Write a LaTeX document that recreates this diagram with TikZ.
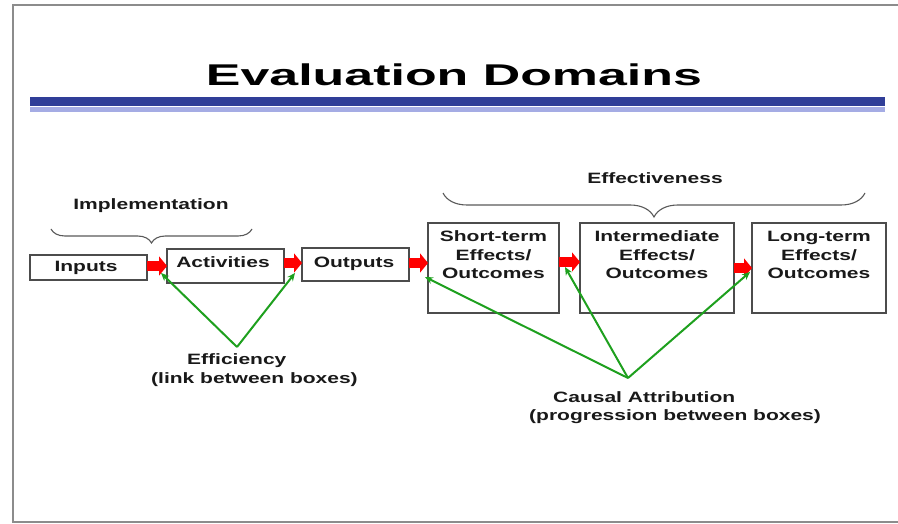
\documentclass[tikz,border=0pt]{standalone}
\usepackage{fontspec}
\setmainfont{Liberation Sans}[FakeStretch=1.4]
\newfontfamily\titlefont{Liberation Sans}[FakeStretch=1.73]
\usetikzlibrary{arrows.meta,decorations.pathreplacing}
\definecolor{barblue}{RGB}{48,62,152}
\definecolor{barlight}{RGB}{165,172,228}
\definecolor{framegray}{RGB}{140,140,140}
\definecolor{arrgreen}{RGB}{30,160,30}
\begin{document}
\begin{tikzpicture}[x=1pt,y=-1pt,
  box/.style={draw=black!70, line width=1.3pt, inner sep=0pt, outer sep=0pt},
  txt/.style={font=\fontsize{15}{18.5}\selectfont\bfseries, text=black!90, inner sep=0pt, align=center},
  redarr/.style={draw=red, line width=10pt, -{Triangle[length=8pt 0 0, width=19pt 0 0]}},
  grn/.style={draw=arrgreen, line width=2pt, -{Stealth[length=8pt 0 0, width=7pt 0 0]}},
  brc/.style={draw=black!65, line width=1.1pt, decorate, decoration={brace, mirror, amplitude=#1}}
]
\useasboundingbox (0,0) rectangle (898,524);
% frame
\draw[framegray, line width=2pt] (910,5) -- (13,5) -- (13,522) -- (910,522);
% title
\node[font=\titlefont\fontsize{30}{36}\selectfont\bfseries, text=black, anchor=base, inner sep=0pt] (title) at (454,86) {Evaluation Domains};
\fill[barblue] (30,97) rectangle (885,106);
\fill[barlight] (30,107) rectangle (885,112);
% boxes
\node[box, minimum width=117pt, minimum height=25pt] (in) at (88.5,267.5) {};
\node[box, minimum width=117pt, minimum height=34pt] (act) at (225.5,266) {};
\node[box, minimum width=107pt, minimum height=33pt] (out) at (355.5,264.5) {};
\node[box, minimum width=131pt, minimum height=90pt] (st) at (493.5,268) {};
\node[box, minimum width=154pt, minimum height=90pt] (im) at (657,268) {};
\node[box, minimum width=134pt, minimum height=90pt] (lt) at (819,268) {};
% box texts (base anchor = last line's baseline)
\node[txt, anchor=base] (in-t) at (86,272) {Inputs};
\node[txt, anchor=base] (act-t) at (223,267) {Activities};
\node[txt, anchor=base] (out-t) at (354,267) {Outputs};
\node[txt, anchor=base] (st-t) at (493.5,279) {Short-term\\Effects/\\Outcomes};
\node[txt, anchor=base] (im-t) at (657,279) {Intermediate\\Effects/\\Outcomes};
\node[txt, anchor=base] (lt-t) at (819,279) {Long-term\\Effects/\\Outcomes};
% red arrows
\draw[redarr] (in.east |- 0,266) -- (act.west |- 0,266);
\draw[redarr] (act.east |- 0,263) -- (out.west |- 0,263);
\draw[redarr] (out.east |- 0,263) -- (st.west |- 0,263);
\draw[redarr] (st.east |- 0,262) -- (im.west |- 0,262);
\draw[redarr] (im.east |- 0,268) -- (lt.west |- 0,268);
% braces
\draw[brc=14pt] (51,229) -- (252,229);
\draw[brc=24pt] (443,193) -- (865,193);
\node[txt, anchor=base] (impl) at (151,210) {Implementation};
\node[txt, anchor=base] (effv) at (655,184) {Effectiveness};
% labels
\node[txt, anchor=base west, align=left] (eff) at (151,383) {\hspace*{36pt}Efficiency\\(link between boxes)};
\node[txt, anchor=base west, align=left] (caus) at (529,420.5) {\hspace*{24pt}Causal Attribution\\(progression between boxes)};
% green arrows
\coordinate (effapex) at (237,347);
\coordinate (causapex) at (628,378);
\coordinate (e1) at (161,273);
\coordinate (e2) at (295,273);
\coordinate (c1) at (425,277);
\coordinate (c2) at (565,267);
\coordinate (c3) at (750,272);
\draw[grn] (effapex) -- (e1);
\draw[grn] (effapex) -- (e2);
\draw[grn] (causapex) -- (c1);
\draw[grn] (causapex) -- (c2);
\draw[grn] (causapex) -- (c3);
\end{tikzpicture}
\end{document}
